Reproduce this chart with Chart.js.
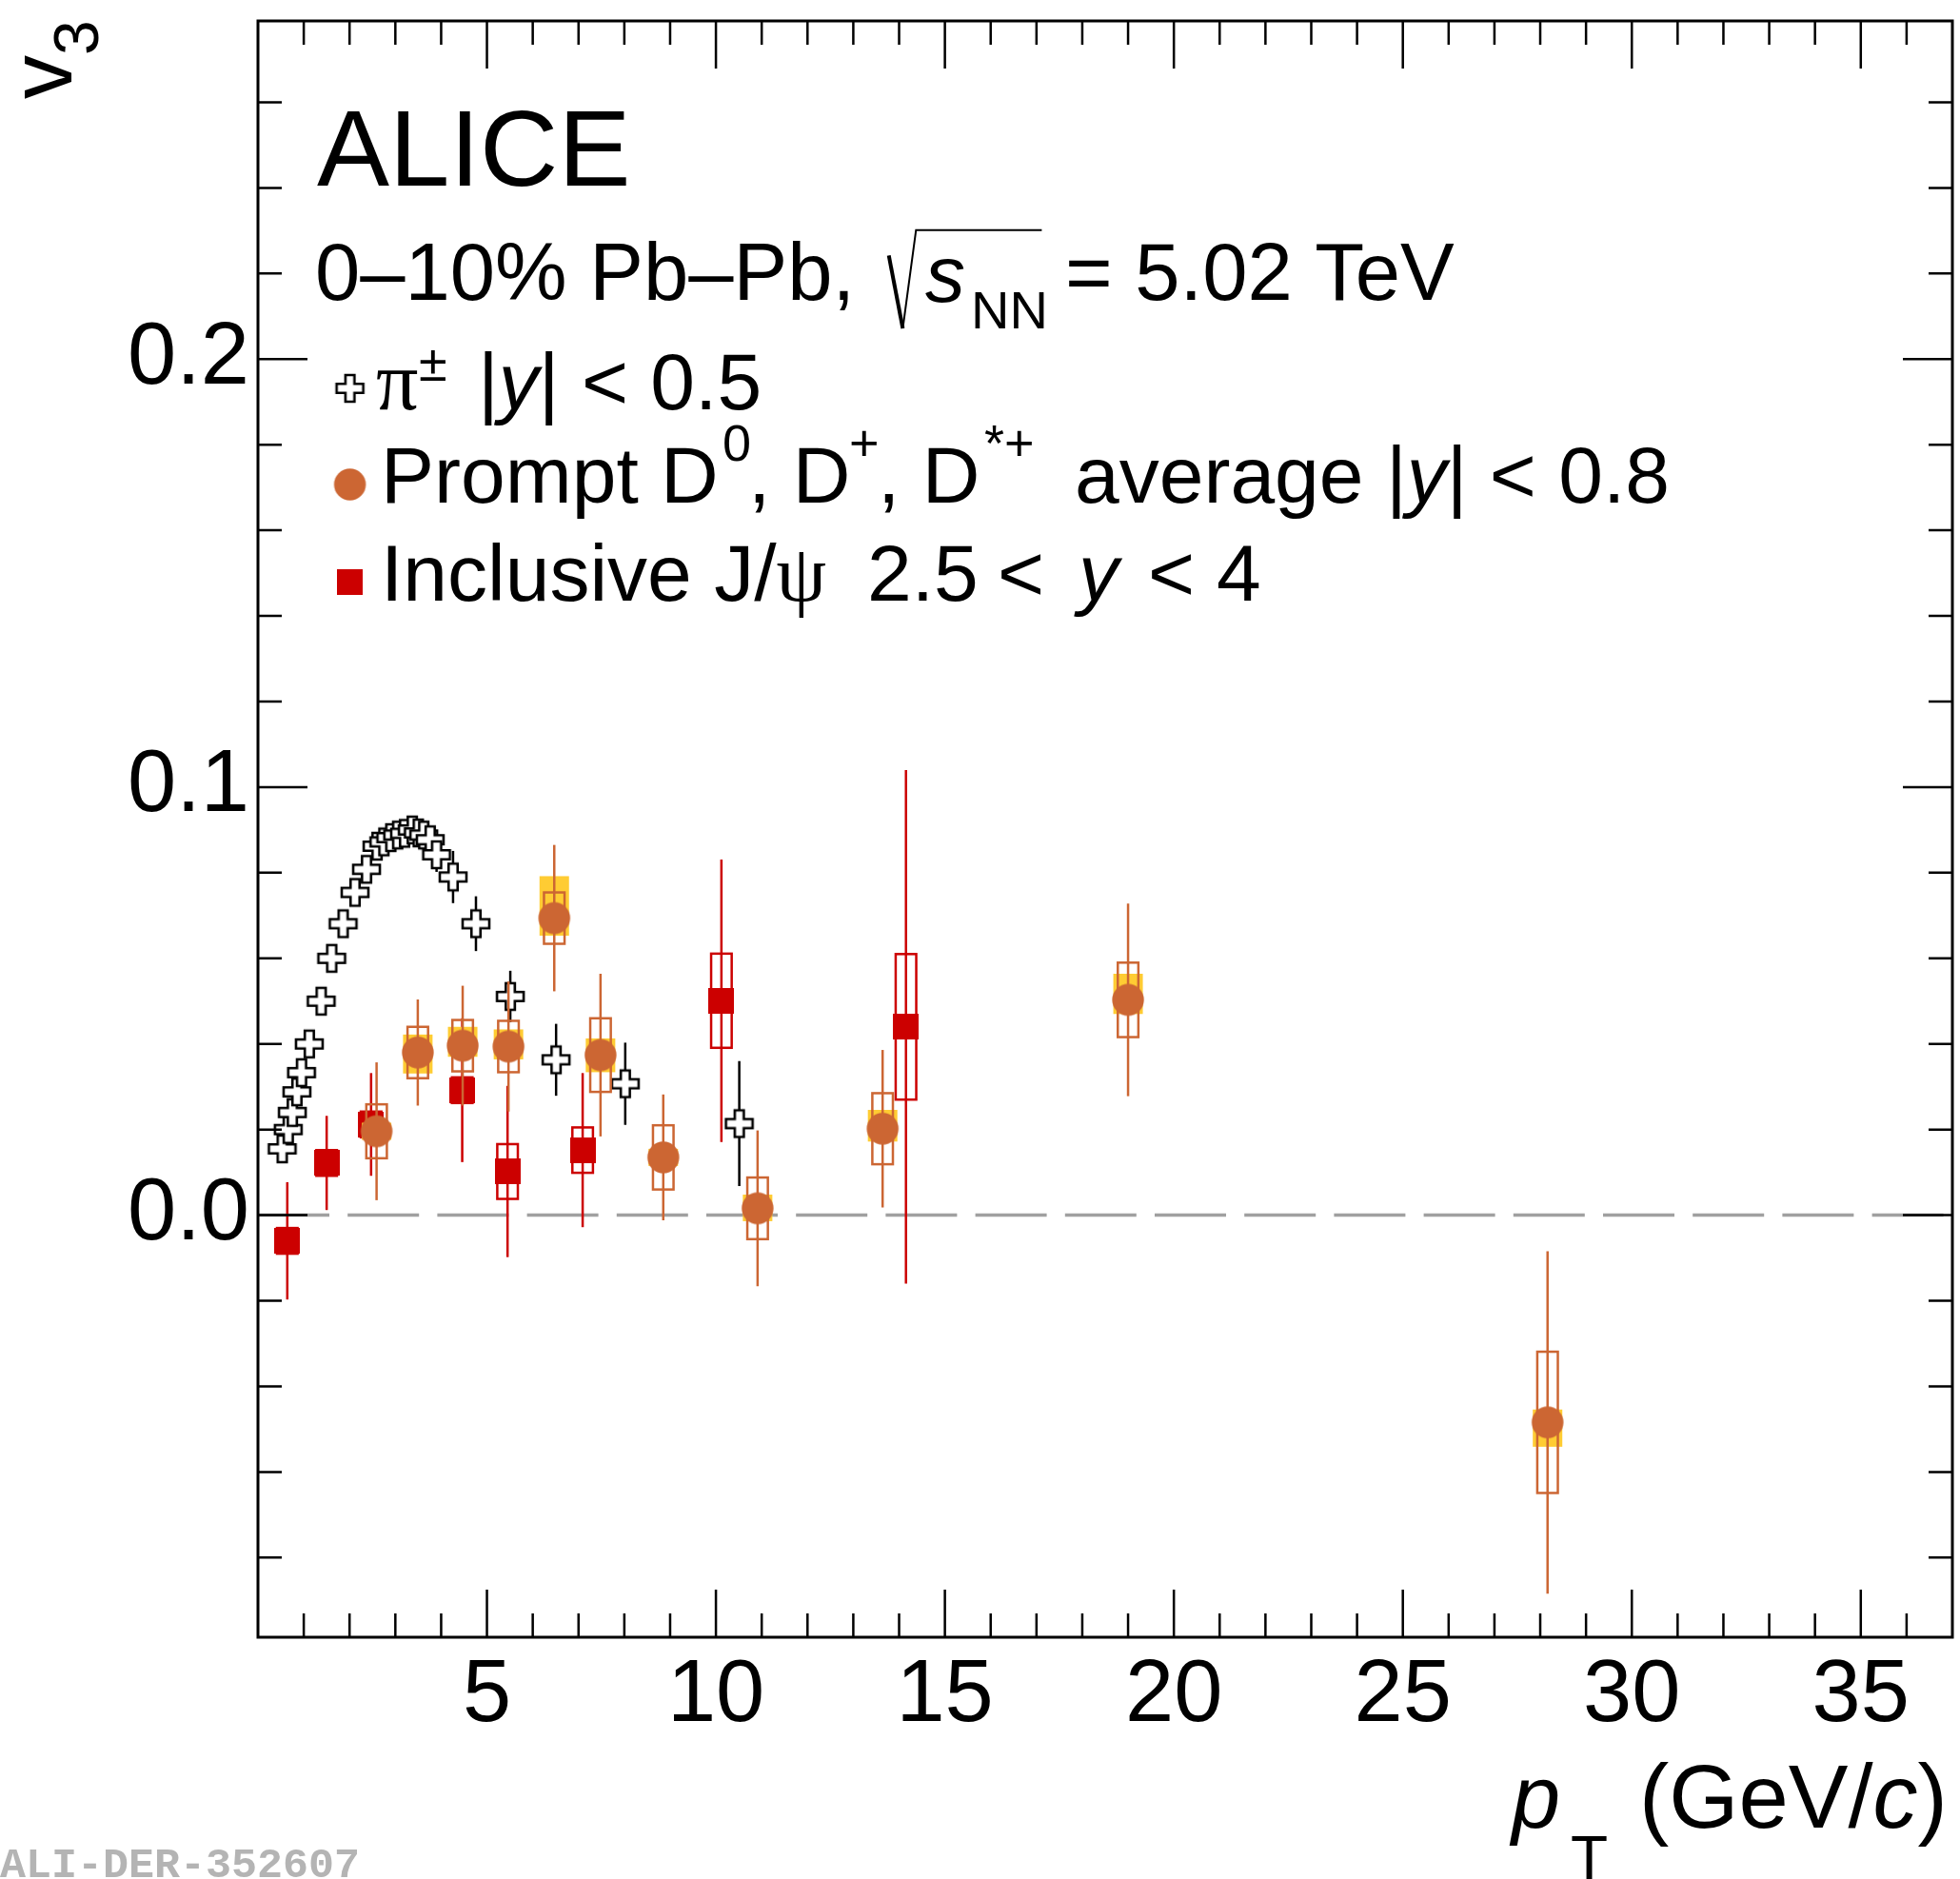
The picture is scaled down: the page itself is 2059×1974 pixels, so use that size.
<!DOCTYPE html>
<html>
<head>
<meta charset="utf-8">
<title>v3 vs pT</title>
<script src="https://cdn.jsdelivr.net/npm/chart.js@4.4.1/dist/chart.umd.min.js"></script>
<style>
  html, body { margin: 0; padding: 0; background: #fff; overflow: hidden; }
  #wrap { width: 2059px; height: 1974px; }
  #v3Chart { display: block; }
</style>
</head>
<body>
<div id="wrap"><canvas id="v3Chart" width="2059" height="1974"></canvas></div>
<script>
// pi+- |y| < 0.5
const pionPt = [0.53, 0.66, 0.75, 0.85, 0.95, 1.12, 1.38, 1.61, 1.86, 2.12, 2.37, 2.60, 2.75, 2.90, 3.05, 3.20, 3.37, 3.50, 3.62, 3.76, 3.90, 4.26, 4.76, 5.51, 6.51, 8.02, 10.51];
const pionV3 = [0.0155, 0.0200, 0.0240, 0.0288, 0.0333, 0.0400, 0.0500, 0.0600, 0.0681, 0.0754, 0.0808, 0.0862, 0.0872, 0.0882, 0.0888, 0.0892, 0.0900, 0.0893, 0.0888, 0.0877, 0.0842, 0.0790, 0.0681, 0.0511, 0.0363, 0.0307, 0.0214];
const pionErr = [0.001, 0.001, 0.001, 0.001, 0.001, 0.001, 0.001, 0.001, 0.001, 0.001, 0.001, 0.001, 0.001, 0.001, 0.001, 0.001, 0.001, 0.001, 0.002, 0.002, 0.004, 0.0061, 0.0064, 0.0060, 0.0084, 0.0096, 0.0146];

// inclusive J/psi 2.5 < y < 4
const jpsiPt = [0.64, 1.50, 2.47, 4.46, 5.45, 7.09, 10.12, 14.15];
const jpsiV3 = [-0.0060, 0.0122, 0.0212, 0.0292, 0.0102, 0.0152, 0.0501, 0.0440];
const jpsiStat = [0.0137, 0.0110, 0.0120, 0.0168, 0.0200, 0.0180, 0.0330, 0.0600];
const jpsiSyst = [0.003, 0.003, 0.003, 0.003, 0.0064, 0.0053, 0.0110, 0.0170];

// prompt D0, D+, D*+ average |y| < 0.8
const dPt = [2.59, 3.49, 4.47, 5.47, 6.47, 7.48, 8.85, 10.91, 13.64, 19.00, 28.16];
const dV3 = [0.0196, 0.0380, 0.0396, 0.0394, 0.0694, 0.0374, 0.0135, 0.0016, 0.0202, 0.0503, -0.0484];
const dStat = [0.0161, 0.0124, 0.0140, 0.0152, 0.0171, 0.0190, 0.0147, 0.0182, 0.0184, 0.0225, 0.0400];
const dSyst = [0.0063, 0.0060, 0.0060, 0.0060, 0.0060, 0.0086, 0.0075, 0.0072, 0.0083, 0.0087, 0.0165];
const dFdUp = [0.002, 0.0042, 0.0044, 0.0040, 0.0098, 0.0039, 0.002, 0.0032, 0.0044, 0.0061, 0.0030];
const dFdDown = [0.002, 0.0049, 0.0026, 0.0030, 0.0041, 0.0040, 0.002, 0.0030, 0.0030, 0.0033, 0.0057];

const xTicks = [5, 10, 15, 20, 25, 30, 35];
const xTickLabels = ['5', '10', '15', '20', '25', '30', '35'];
const yTicks = [0, 0.1, 0.2];
const yTickLabels = ['0.0', '0.1', '0.2'];

const ORANGE = '#cc6633';
const YELLOW = '#ffcc33';
const RED = '#cc0000';
const SANS = '"Liberation Sans", Arial, Helvetica, sans-serif';
const SERIF = '"Liberation Serif", "Times New Roman", serif';

// markers are small canvases used as pointStyle, so the point radius
// (which chart.js also uses as layout overflow) can stay tiny
function crossImage(size, arm, lw) {
    let pad = Math.ceil(lw);
    let c = document.createElement('canvas');
    c.width = c.height = size + 2 * pad;
    let ctx = c.getContext('2d');
    let h = size / 2, a = arm / 2, o = c.width / 2;
    ctx.translate(o, o);
    ctx.beginPath();
    ctx.moveTo(-a, -h); ctx.lineTo(a, -h); ctx.lineTo(a, -a); ctx.lineTo(h, -a);
    ctx.lineTo(h, a); ctx.lineTo(a, a); ctx.lineTo(a, h); ctx.lineTo(-a, h);
    ctx.lineTo(-a, a); ctx.lineTo(-h, a); ctx.lineTo(-h, -a); ctx.lineTo(-a, -a);
    ctx.closePath();
    ctx.fillStyle = '#fff';
    ctx.fill();
    ctx.lineWidth = lw;
    ctx.strokeStyle = '#000';
    ctx.stroke();
    return c;
}
function circleImage(r, color) {
    let c = document.createElement('canvas');
    c.width = c.height = Math.ceil(2 * r) + 2;
    let ctx = c.getContext('2d');
    ctx.fillStyle = color;
    ctx.beginPath();
    ctx.arc(c.width / 2, c.height / 2, r, 0, Math.PI * 2);
    ctx.fill();
    return c;
}
function squareImage(side, color) {
    let c = document.createElement('canvas');
    c.width = c.height = side;
    let ctx = c.getContext('2d');
    ctx.fillStyle = color;
    ctx.fillRect(0, 0, side, side);
    return c;
}
const crossImg = crossImage(28, 9.5, 2.6);
const circleImg = circleImage(16.7, ORANGE);
const squareImg = squareImage(27, RED);

// stat bars, syst boxes and feed-down boxes, drawn just before each dataset
const errorBars = {
    id: 'errorBars',
    beforeDatasetDraw(chart, args) {
        let ds = chart.data.datasets[args.index];
        let { ctx, chartArea: a, scales: { x, y } } = chart;
        ctx.save();
        ctx.beginPath();
        ctx.rect(a.left, a.top, a.right - a.left, a.bottom - a.top);
        ctx.clip();
        ds.data.forEach((p, i) => {
            let px = x.getPixelForValue(p.x);
            if (ds.fdUp) {
                let t = y.getPixelForValue(p.y + ds.fdUp[i]);
                let b = y.getPixelForValue(p.y - ds.fdDown[i]);
                ctx.fillStyle = YELLOW;
                ctx.fillRect(px - 15.5, t, 31, b - t);
            }
            if (ds.stat) {
                ctx.strokeStyle = ds.barColor;
                ctx.lineWidth = 2.5;
                ctx.beginPath();
                ctx.moveTo(px, y.getPixelForValue(p.y + ds.stat[i]));
                ctx.lineTo(px, y.getPixelForValue(p.y - ds.stat[i]));
                ctx.stroke();
            }
            if (ds.syst) {
                let t = y.getPixelForValue(p.y + ds.syst[i]);
                let b = y.getPixelForValue(p.y - ds.syst[i]);
                ctx.strokeStyle = ds.barColor;
                ctx.lineWidth = 2.5;
                ctx.strokeRect(px - 10.8, t, 21.6, b - t);
            }
        });
        ctx.restore();
    }
};

// frame, inward ticks on all four sides, dashed zero line
const frameTicks = {
    id: 'frameTicks',
    beforeDatasetsDraw(chart) {
        let { ctx, chartArea: a, scales: { y } } = chart;
        let py = y.getPixelForValue(0);
        ctx.save();
        ctx.strokeStyle = '#a0a0a0';
        ctx.lineWidth = 3.5;
        ctx.setLineDash([75, 19.2]);
        ctx.beginPath();
        ctx.moveTo(a.left, py);
        ctx.lineTo(a.right, py);
        ctx.stroke();
        ctx.restore();
    },
    afterDraw(chart) {
        let { ctx, chartArea: a, scales: { x, y } } = chart;
        ctx.save();
        ctx.strokeStyle = '#000';
        ctx.lineWidth = 2.5;
        ctx.beginPath();
        for (let v = Math.floor(x.min) + 1; v < x.max; v++) {
            let px = x.getPixelForValue(v);
            let len = v % 5 === 0 ? 50 : 25;
            ctx.moveTo(px, a.bottom); ctx.lineTo(px, a.bottom - len);
            ctx.moveTo(px, a.top); ctx.lineTo(px, a.top + len);
        }
        for (let k = Math.ceil(y.min / 0.02); k * 0.02 < y.max; k++) {
            let py = y.getPixelForValue(k * 0.02);
            let len = k % 5 === 0 ? 52 : 25;
            ctx.moveTo(a.left, py); ctx.lineTo(a.left + len, py);
            ctx.moveTo(a.right, py); ctx.lineTo(a.right - len, py);
        }
        ctx.stroke();
        ctx.lineWidth = 3;
        ctx.strokeRect(a.left, a.top, a.right - a.left, a.bottom - a.top);
        ctx.restore();
    }
};

function rich(ctx, x, y, parts) {
    for (const p of parts) {
        if (p.x !== undefined) x = p.x;
        ctx.font = (p.it ? 'italic ' : '') + p.size + 'px ' + (p.serif ? SERIF : SANS);
        ctx.fillText(p.t, x, y + (p.dy || 0));
        x += ctx.measureText(p.t).width;
    }
    return x;
}

// ALICE label, legend, axis titles, watermark
const annotations = {
    id: 'annotations',
    afterDraw(chart) {
        let ctx = chart.ctx;
        ctx.save();
        ctx.fillStyle = '#000';
        ctx.textAlign = 'left';
        ctx.textBaseline = 'alphabetic';

        rich(ctx, 333, 195, [{ t: 'ALICE', size: 114 }]);

        rich(ctx, 331, 315, [{ t: '0\u201310% Pb\u2013Pb,', size: 85 }]);
        ctx.strokeStyle = '#000';
        ctx.lineCap = 'butt';
        ctx.lineWidth = 4;
        ctx.beginPath();
        ctx.moveTo(933.7, 268.3);
        ctx.lineTo(948.4, 345);
        ctx.stroke();
        ctx.lineWidth = 2;
        ctx.beginPath();
        ctx.moveTo(948.4, 345);
        ctx.lineTo(962.3, 241.7);
        ctx.lineTo(1094.4, 241.7);
        ctx.stroke();
        rich(ctx, 0, 316.7, [{ t: 's', size: 84, it: true, x: 972 }]);
        rich(ctx, 0, 345, [{ t: 'NN', size: 56, x: 1020 }]);
        rich(ctx, 0, 315, [{ t: '= 5.02 TeV', size: 85, x: 1119 }]);

        // legend entries
        ctx.drawImage(crossImg, 367.6 - crossImg.width / 2, 408 - crossImg.height / 2);
        rich(ctx, 0, 430, [
            { t: '\u03C0', size: 88, serif: true, x: 395 },
            { t: '\u00B1', size: 54, dy: -30, x: 440 },
            { t: '|', size: 84, x: 502 },
            { t: 'y', size: 84, it: true },
            { t: '| < 0.5', size: 84 }
        ]);

        ctx.drawImage(circleImg, 367.6 - circleImg.width / 2, 509 - circleImg.height / 2);
        rich(ctx, 0, 528, [
            { t: 'Prompt D', size: 84, x: 400 },
            { t: '0', size: 54, dy: -44, x: 759 },
            { t: ', D', size: 84, x: 786 },
            { t: '+', size: 54, dy: -44, x: 892 },
            { t: ', D', size: 84, x: 922 },
            { t: '*+', size: 54, dy: -44, x: 1034 },
            { t: 'average |', size: 84, x: 1129 },
            { t: 'y', size: 84, it: true },
            { t: '| < 0.8', size: 84 }
        ]);

        ctx.drawImage(squareImg, 367.6 - squareImg.width / 2, 611 - squareImg.height / 2);
        rich(ctx, 0, 631, [
            { t: 'Inclusive J/', size: 84, x: 400 },
            { t: '\u03C8', size: 84, serif: true },
            { t: '2.5', size: 84, x: 911 },
            { t: '<', size: 84, x: 1048 },
            { t: 'y', size: 84, it: true, x: 1133 },
            { t: '<', size: 84, x: 1206 },
            { t: '4', size: 84, x: 1278 }
        ]);

        // y title, rotated
        ctx.save();
        ctx.translate(75, 0);
        ctx.rotate(-Math.PI / 2);
        ctx.font = '92px ' + SANS;
        ctx.fillText('v', -104, 0);
        ctx.font = '66px ' + SANS;
        ctx.fillText('3', -58, 28);
        ctx.restore();

        // x title
        rich(ctx, 0, 1920, [
            { t: 'p', size: 92, it: true, x: 1588 },
            { t: 'T', size: 64, dy: 54, x: 1650 },
            { t: '(GeV/', size: 94, x: 1722 },
            { t: 'c', size: 94, it: true },
            { t: ')', size: 94 }
        ]);

        ctx.fillStyle = '#b4b4b4';
        ctx.font = 'bold 45px "Liberation Mono", "DejaVu Sans Mono", monospace';
        ctx.fillText('ALI-DER-352607', 0, 1972);
        ctx.restore();
    }
};

const ctx = document.getElementById('v3Chart').getContext('2d');
const chart = new Chart(ctx, {
    type: 'scatter',
    data: {
        datasets: [
            {
                label: 'Prompt D',
                data: dPt.map((x, i) => ({ x: x, y: dV3[i] })),
                stat: dStat,
                syst: dSyst,
                fdUp: dFdUp,
                fdDown: dFdDown,
                barColor: ORANGE,
                pointStyle: circleImg,
                pointRadius: 2,
                showLine: false
            },
            {
                label: 'Inclusive J/psi',
                data: jpsiPt.map((x, i) => ({ x: x, y: jpsiV3[i] })),
                stat: jpsiStat,
                syst: jpsiSyst,
                barColor: RED,
                pointStyle: squareImg,
                pointRadius: 2,
                showLine: false
            },
            {
                label: 'pi',
                data: pionPt.map((x, i) => ({ x: x, y: pionV3[i] })),
                stat: pionErr,
                barColor: '#000',
                pointStyle: crossImg,
                pointRadius: 2,
                showLine: false
            }
        ]
    },
    options: {
        responsive: false,
        devicePixelRatio: 1,
        animation: false,
        events: [],
        layout: { padding: { top: 22, right: 8, left: 0, bottom: 0 } },
        plugins: {
            legend: { display: false },
            tooltip: { enabled: false }
        },
        scales: {
            x: {
                type: 'linear',
                min: 0,
                max: 37,
                grid: { display: false, drawTicks: false },
                border: { display: false },
                afterFit: s => { s.height = 254; s.paddingLeft = 0; s.paddingRight = 0; },
                afterBuildTicks: s => { s.ticks = xTicks.map(v => ({ value: v })); },
                ticks: {
                    autoSkip: false,
                    maxRotation: 0,
                    padding: 7,
                    color: '#000',
                    font: { family: SANS, size: 92 },
                    callback: (v, i) => xTickLabels[i]
                }
            },
            y: {
                type: 'linear',
                min: -0.0986,
                max: 0.279,
                grid: { display: false, drawTicks: false },
                border: { display: false },
                afterFit: s => { s.width = 271; s.paddingTop = 0; s.paddingBottom = 0; },
                afterBuildTicks: s => { s.ticks = yTicks.map(v => ({ value: v })); },
                ticks: {
                    autoSkip: false,
                    padding: 9,
                    color: '#000',
                    font: { family: SANS, size: 92 },
                    callback: (v, i) => yTickLabels[i]
                }
            }
        }
    },
    plugins: [frameTicks, errorBars, annotations]
});
</script>
</body>
</html>
